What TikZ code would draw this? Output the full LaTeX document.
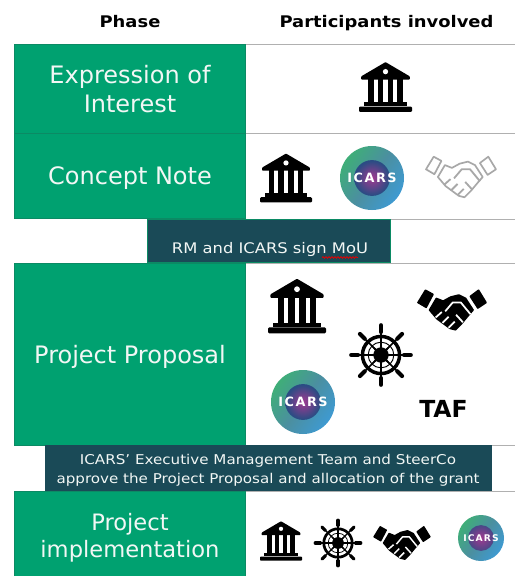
\documentclass[tikz,border=0pt]{standalone}
\usepackage{fontspec}
\setmainfont{DejaVu Sans}
\newfontfamily\logofont[LetterSpace=12]{DejaVu Sans Bold}
\newfontfamily\widebold[FakeStretch=1.12]{DejaVu Sans Bold}
\newfontfamily\widereg[FakeStretch=1.12]{DejaVu Sans}
\usetikzlibrary{decorations.pathmorphing}
\definecolor{phasegreen}{HTML}{00A170}
\definecolor{phaseedge}{HTML}{0B8A64}
\definecolor{bardark}{HTML}{1A4A57}
\definecolor{rulegrey}{HTML}{B0B0B0}
\definecolor{softwhite}{HTML}{F2F7F5}
\definecolor{lgreen}{HTML}{3FAE78}
\definecolor{lteal}{HTML}{4B8FA0}
\definecolor{lblue}{HTML}{3E9AD2}
\definecolor{lmag}{HTML}{A03A90}
\definecolor{lnavy}{HTML}{2B4C84}
\definecolor{handgrey}{HTML}{A8A8A8}
\pgfdeclareradialshading{logocore}{\pgfpoint{0cm}{0cm}}{color(0cm)=(lmag); color(0.25cm)=(lmag!60!lnavy); color(0.6cm)=(lnavy); color(1cm)=(lnavy)}
\tikzset{
  phasebox/.style={draw=phaseedge,line width=1pt,fill=phasegreen,inner sep=0pt},
  phasetext/.style={text=softwhite,align=center,inner sep=0pt,font=\fontsize{24}{29}\selectfont},
  headtext/.style={font=\fontsize{16}{18}\widebold,text=black,inner sep=0pt},
  barbox/.style={fill=bardark,inner sep=0pt},
  bartext/.style={text=softwhite,align=center,inner sep=0pt,font=\fontsize{13.5}{19}\widereg},
  rowrule/.style={draw=rulegrey,line width=1pt},
  pics/bank/.style={code={
    \pgfmathsetmacro\u{#1/100}
    \begin{scope}[x=\u pt,y=-\u pt]
      \fill[black,rounded corners=1.5*\u pt] (0,-47)--(46,-20)--(46,-14)--(-46,-14)--(-46,-20)--cycle;
      \fill[white] (0,-29) circle (5);
      \foreach \cx in {-28,-9.3,9.3,28}{\fill[black] (\cx-5.5,-15) rectangle (\cx+5.5,31);}
      \fill[black] (-41,29) rectangle (41,36);
      \fill[black,rounded corners=2*\u pt] (-50,37) rectangle (50,47);
    \end{scope}}},
  pics/wheel/.style={code={
    \pgfmathsetmacro\u{#1/100}
    \begin{scope}[x=\u pt,y=-\u pt]
      \foreach \a in {0,45,...,315}{
        \draw[black,line width=2.5*\u pt] (0,0)--(\a:38);
        \draw[black,line width=6.5*\u pt,line cap=round] (\a:36)--(\a:46.5);
        \fill[black] (\a+14:9)--(\a:24)--(\a-14:9)--cycle;
      }
      \draw[black,line width=5.5*\u pt] (0,0) circle (29);
      \draw[black,line width=1.5*\u pt] (0,0) circle (20);
      \fill[black] (0,0) circle (12);
    \end{scope}}},
  pics/shake/.style n args={3}{code={
    \pgfmathsetmacro\u{#3/100}
    \begin{scope}[x=\u pt,y=-\u pt,line join=round]
      \path[fill=#1,draw=#2,line width=2.4*\u pt]
        (-23,-17)--(-13,-13)--(-2,-19)--(10,-22)--(20,-17)--(31,0)--(24,8)--(14,20)
        --(5,29)--(-3,27)--(-22,13)--(-33,0)--cycle;
      \path[fill=#1,draw=#2,line width=2.4*\u pt]
        (-50,-11)--(-39,-29)--(-28,-23)--(-38,-4)--cycle;
      \path[fill=#1,draw=#2,line width=2.4*\u pt]
        (27,-20)--(39,-29)--(50,-11)--(38,-3)--cycle;
    \end{scope}}},
  pics/shakedetail/.style n args={2}{code={
    \pgfmathsetmacro\u{#2/100}
    \begin{scope}[x=\u pt,y=-\u pt,line join=round]
      \draw[#1,line width=2.6*\u pt] (-10,2)--(1,-11)--(13,-11)--(27,6);
      \draw[#1,line width=2.6*\u pt] (-24,11)--(-15,3);
      \draw[#1,line width=2.6*\u pt] (-14,19)--(-5,10);
      \draw[#1,line width=2.6*\u pt] (-5,26)--(4,17);
      \draw[#1,line width=2.6*\u pt] (6,7)--(16,18);
    \end{scope}}},
  pics/icars/.style={code={
    \pgfmathsetmacro\r{#1}
    \pgfmathsetmacro\fs{0.40*#1}
    \shade[left color=lgreen,right color=lblue,middle color=lteal,shading angle=55] (0,0) circle (\r pt);
    \pgfmathsetmacro\rr{0.56*#1}
    \begin{scope}
      \clip (0,0) circle (\rr pt);
      \pgftext{\pgfuseshading{logocore}}
    \end{scope}
    \node[inner sep=0pt,text=white] (-label) at (0,0) {\fontsize{\fs}{\fs}\logofont ICARS};
  }},
}
\begin{document}
\begin{tikzpicture}[x=1pt,y=-1pt]
\useasboundingbox (0,0) rectangle (515,576);
\fill[white] (0,0) rectangle (515,576);

% header
\node[headtext] (headPhase) at (130,22) {Phase};
\node[headtext] (headPart) at (386.5,23) {Participants involved};

% right column rules
\foreach \yy in {44,133,219,263,445,491}{\draw[rowrule] (245,\yy)--(515,\yy);}

% phase cells
\node[phasebox,minimum width=231pt,minimum height=89pt] (eoi) at (129.5,88.5) {};
\node[phasetext] (eoiText) at (130,89) {Expression of\\Interest};
\node[phasebox,minimum width=231pt,minimum height=85pt] (cn) at (129.5,175.5) {};
\node[phasetext] (cnText) at (130,178) {Concept Note};
\node[phasebox,minimum width=231pt,minimum height=182pt] (pp) at (129.5,354) {};
\node[phasetext] (ppText) at (130,357) {Project Proposal};
\fill[phasegreen] (14,491) rectangle (245,576);
\draw[phaseedge,line width=1pt] (14,576)--(14,491)--(245,491)--(245,576);
\node[phasetext,font=\fontsize{22.6}{27.5}\selectfont] (impl) at (130,538) {Project\\implementation};

% decision bars
\node[barbox,draw=phaseedge,line width=1pt,minimum width=243pt,minimum height=43pt] (mou) at (268.5,240.5) {};
\node[bartext,font=\fontsize{14.6}{17}\widereg] (mouText) at (270,249.5) {RM and ICARS sign MoU};
\draw[red!90!black,line width=.8pt,decorate,decoration={snake,amplitude=.8pt,segment length=3pt}] (322,257.5)--(358,257.5);
\node[barbox,minimum width=447pt,minimum height=46pt] (approve) at (268.5,468) {};
\node[bartext] (approveText) at (268,470.5) {ICARS’ Executive Management Team and SteerCo\\approve the Project Proposal and allocation of the grant};

% row 1
\pic at (385.5,87) {bank=53};
% row 2
\pic at (286,178) {bank=52};
\pic (logoA) at (372,178) {icars=32};
\pic at (461,177) {shake={white}{handgrey}{70}};
\pic at (461,177) {shakedetail={handgrey}{70}};
% proposal
\pic at (297,306) {bank=58};
\pic at (452,310) {shake={black}{black}{68}};
\pic at (452,310) {shakedetail={white}{68}};
\pic at (381,355) {wheel=64};
\pic (logoB) at (303,402) {icars=32};
\node[inner sep=0pt,font=\fontsize{23.5}{24}\selectfont\bfseries] (taf) at (443.5,409) {TAF};
% implementation
\pic at (281,541) {bank=42};
\pic at (338,543) {wheel=49};
\pic at (402,543) {shake={black}{black}{56}};
\pic at (402,543) {shakedetail={white}{56}};
\pic (logoC) at (481,538) {icars=23};
\end{tikzpicture}
\end{document}
